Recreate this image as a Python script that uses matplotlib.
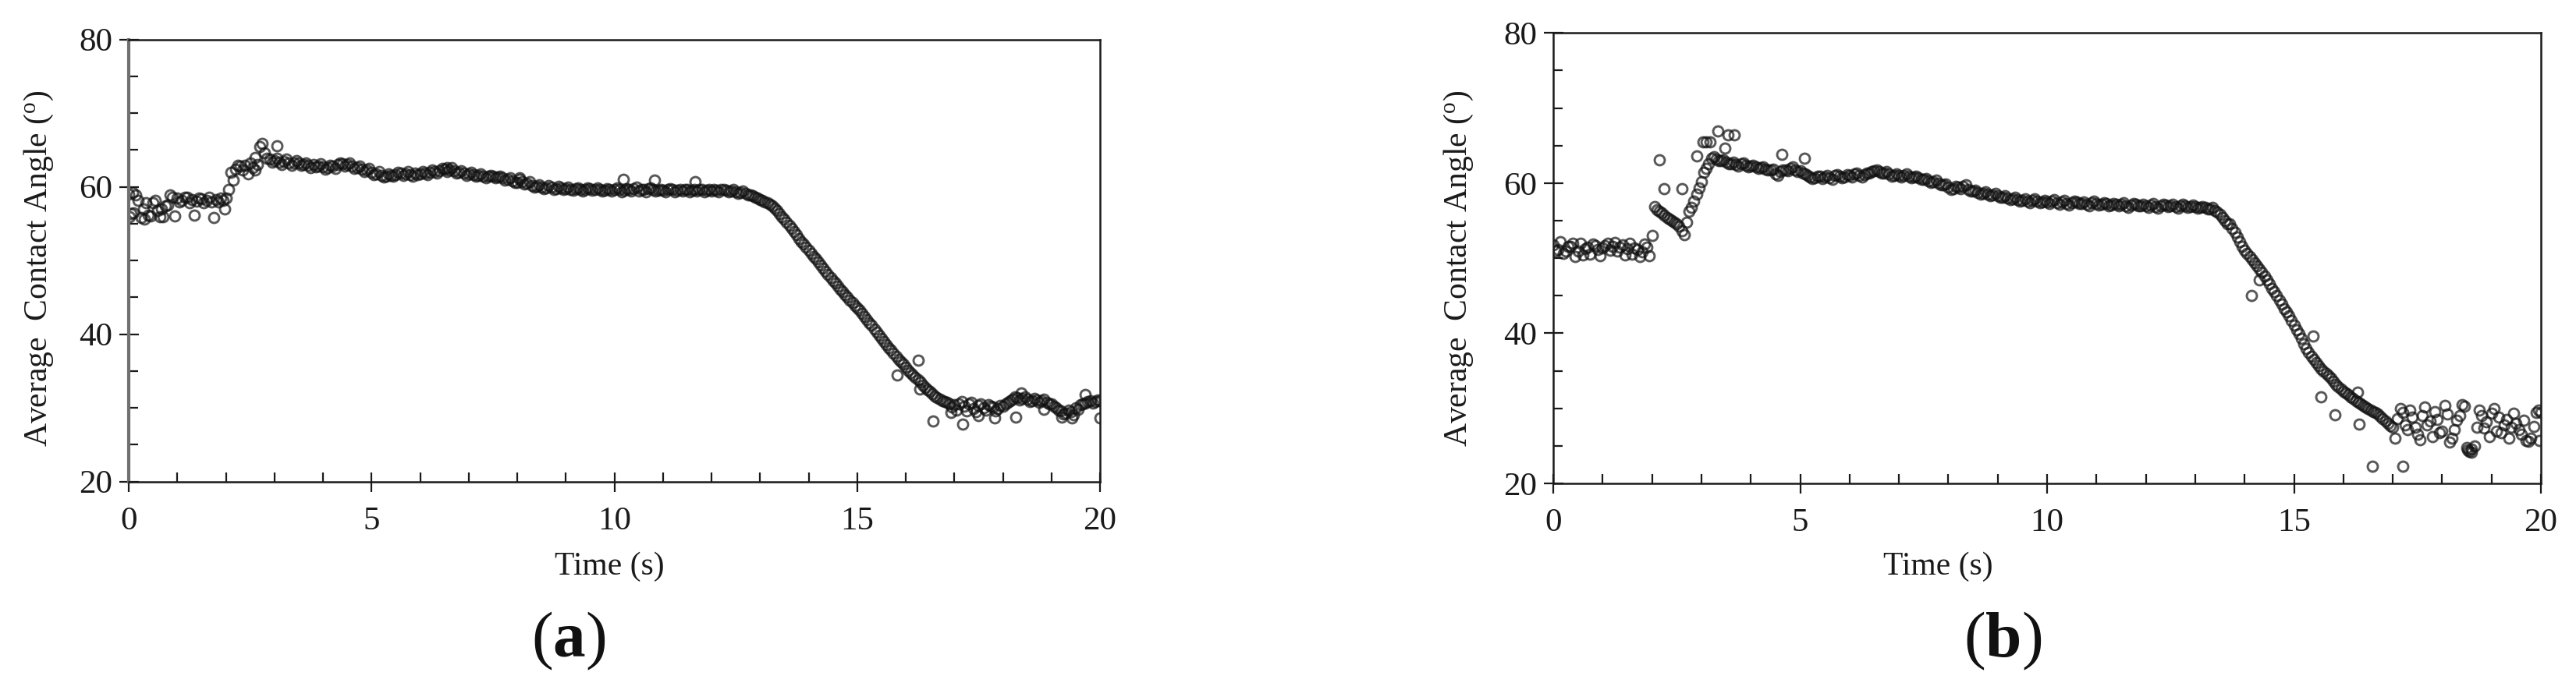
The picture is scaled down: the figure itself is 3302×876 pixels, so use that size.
import numpy as np
import matplotlib
matplotlib.use("Agg")
import matplotlib.pyplot as plt
from matplotlib.ticker import MultipleLocator

plt.rcParams['font.family'] = ['Liberation Serif', 'DejaVu Serif']
plt.rcParams['mathtext.fontset'] = 'custom'
plt.rcParams['mathtext.rm'] = 'Liberation Serif'
plt.rcParams['mathtext.bf'] = 'Liberation Serif:bold'

# ---------------- data ----------------
# sample times (s): frames every 0.1 s plus the in-between frames
time_main = np.round(np.arange(0, 20.001, 0.1), 2)
time_half = np.round(np.arange(0.05, 20.0, 0.1), 2)

angle_a = [
    59.0, 56.5, 58.2, 57.0, 56.2, 57.8, 56.8, 56.0, 57.5, 58.6,
    58.5, 58.2, 58.6, 58.3, 58.1, 58.4, 58.2, 58.0, 58.3, 58.5,
    58.5, 62.0, 62.4, 62.8, 62.9, 63.3, 64.0, 65.5, 64.6, 63.8,
    63.6, 63.4, 63.5, 63.3, 63.2, 63.3, 63.0, 62.9, 63.0, 62.8,
    62.7, 62.6, 62.8, 63.0, 63.1, 63.0, 62.8, 62.6, 62.4, 62.3,
    62.0, 61.8, 61.6, 61.5, 61.6, 61.7, 61.9, 61.8, 61.7, 61.9,
    61.8, 61.9, 62.0, 62.1, 62.2, 62.4, 62.3, 62.2, 62.0, 61.9,
    61.8, 61.7, 61.6, 61.5, 61.4, 61.5, 61.3, 61.2, 61.0, 60.8,
    60.6, 60.7, 60.5, 60.2, 60.1, 60.0, 59.9, 60.0, 59.8, 59.9,
    59.8, 59.7, 59.8, 59.6, 59.7, 59.8, 59.6, 59.7, 59.5, 59.6,
    59.7, 59.6, 59.5, 59.6, 59.8, 59.4, 59.6, 59.8, 59.7, 59.5,
    59.5, 59.6, 59.7, 59.5, 59.4, 59.6, 59.5, 59.4, 59.6, 59.5,
    59.4, 59.5, 59.6, 59.5, 59.4, 59.3, 59.2, 59.1, 58.9, 58.6,
    58.3, 58.0, 57.6, 57.1, 56.4, 55.6, 54.8, 53.9, 53.0, 52.2,
    51.4, 50.6, 49.8, 49.0, 48.1, 47.3, 46.5, 45.8, 45.0, 44.3,
    43.6, 42.8, 42.0, 41.2, 40.3, 39.4, 38.6, 37.8, 37.0, 36.3,
    35.5, 34.8, 34.2, 33.5, 32.8, 32.2, 31.6, 31.2, 30.9, 30.6,
    30.4, 30.6, 30.2, 30.5, 29.9, 30.3, 30.0, 30.4, 30.1, 29.9,
    30.2, 30.8, 31.2, 31.4, 31.3, 31.2, 31.0, 31.1, 31.0, 30.8,
    30.5, 30.0, 29.6, 29.3, 29.5, 30.0, 30.4, 30.7, 31.0, 30.9,
    31.0,
]
angle_a_half = [
    56.4, 58.9, 55.8, 57.9, 56.1, 58.2, 55.9, 57.4, 58.9, 56.1,
    58.0, 58.6, 57.9, 56.2, 58.5, 57.9, 58.6, 55.8, 58.0, 58.2,
    59.6, 60.9, 62.9, 62.3, 61.8, 62.6, 63.0, 65.9, 63.9, 63.4,
    63.9, 63.0, 63.8, 62.9, 63.6, 62.9, 63.3, 62.6, 62.7, 63.1,
    62.4, 62.9, 62.5, 63.3, 62.8, 63.3, 62.5, 62.8, 62.1, 62.5,
    61.7, 62.1, 61.3, 61.8, 61.4, 62.0, 61.6, 62.1, 61.5, 61.7,
    62.1, 61.7, 62.3, 61.9, 62.5, 62.1, 62.6, 61.9, 62.2, 61.6,
    62.0, 61.4, 61.8, 61.2, 61.6, 61.2, 61.5, 60.9, 61.2, 60.6,
    61.0, 60.4, 60.7, 60.0, 60.3, 59.8, 60.2, 59.7, 60.1, 59.6,
    60.0, 59.5, 59.9, 59.4, 59.9, 59.5, 59.9, 59.4, 59.8, 59.4,
    59.9, 59.3, 59.8, 59.4, 60.0, 59.6, 59.3, 59.9, 59.4, 59.7,
    59.3, 59.8, 59.3, 59.7, 59.6, 59.3, 59.7, 59.6, 59.3, 59.7,
    59.6, 59.3, 59.7, 59.3, 59.6, 59.1, 59.4, 58.9, 58.8, 58.5,
    58.2, 57.8, 57.4, 56.8, 56.0, 55.2, 54.4, 53.5, 52.6, 51.8,
    51.0, 50.2, 49.4, 48.5, 47.7, 46.9, 46.1, 45.4, 44.6, 43.9,
    43.2, 42.4, 41.6, 40.7, 39.9, 39.0, 38.2, 37.4, 36.6, 35.9,
    35.1, 34.5, 33.8, 33.1, 32.5, 31.9, 31.4, 31.0, 30.8, 30.1,
    29.7, 30.9, 29.6, 30.8, 29.5, 30.6, 29.7, 30.2, 29.6, 30.3,
    30.6, 31.0, 31.5, 31.1, 31.5, 30.9, 31.3, 30.8, 31.2, 30.6,
    30.2, 29.7, 29.2, 29.7, 29.1, 29.8, 30.6, 30.9, 30.7, 31.1,
]
outlier_time_a = [0.02, 0.08, 0.32, 0.68, 1.98, 2.60, 3.05, 6.55, 8.05,
                  10.19, 10.83, 11.66, 15.82, 16.26, 16.29, 16.56, 16.93,
                  17.18, 17.49, 17.83, 18.26, 18.38, 18.84, 19.21, 19.42,
                  19.70, 20.00]
outlier_angle_a = [56.0, 59.2, 55.6, 57.0, 57.0, 62.3, 65.6, 62.6, 61.2,
                   61.0, 60.9, 60.7, 34.5, 36.5, 32.6, 28.2, 29.4,
                   27.8, 29.0, 28.6, 28.8, 32.0, 29.8, 28.8, 28.6,
                   31.8, 28.6]

angle_b = [
    51.8, 51.2, 50.6, 51.6, 52.0, 51.0, 50.4, 51.5, 51.9, 51.2,
    51.4, 52.0, 51.6, 51.0, 51.8, 51.3, 50.5, 51.2, 50.8, 51.5,
    53.0, 56.5, 56.0, 55.4, 55.0, 54.6, 53.6, 54.8, 56.8, 58.5,
    60.2, 62.0, 63.3, 63.2, 63.0, 62.8, 62.6, 62.5, 62.6, 62.4,
    62.3, 62.2, 62.1, 61.9, 61.7, 61.2, 61.5, 61.8, 62.0, 61.8,
    61.6, 61.2, 60.8, 60.7, 60.9, 60.8, 60.7, 61.0, 60.9, 60.8,
    61.0, 61.2, 61.0, 61.1, 61.3, 61.6, 61.5, 61.3, 61.2, 61.0,
    61.0, 61.0, 60.9, 60.8, 60.7, 60.5, 60.3, 60.2, 60.0, 59.8,
    59.5, 59.3, 59.5, 59.6, 59.2, 58.9, 58.7, 58.6, 58.5, 58.4,
    58.3, 58.1, 58.0, 57.9, 57.8, 57.7, 57.6, 57.7, 57.6, 57.5,
    57.5, 57.6, 57.4, 57.5, 57.3, 57.4, 57.5, 57.3, 57.2, 57.4,
    57.3, 57.2, 57.3, 57.1, 57.2, 57.2, 57.0, 57.1, 57.2, 57.0,
    57.0, 57.1, 56.9, 57.0, 57.1, 57.0, 56.9, 57.0, 57.0, 56.9,
    56.9, 56.8, 56.8, 56.6, 56.3, 55.8, 55.0, 54.6, 53.4, 52.2,
    51.1, 50.2, 49.4, 48.6, 47.6, 46.6, 45.5, 44.4, 43.3, 42.3,
    41.1, 39.9, 38.6, 37.4, 36.5, 35.7, 35.0, 34.3, 33.6, 32.9,
    32.3, 31.8, 31.3, 30.8, 30.4, 30.0, 29.6, 29.2, 28.6, 28.0,
    27.5, 28.6, 29.5, 27.2, 28.8, 26.5, 29.0, 27.8, 26.2, 28.5,
    27.0, 29.2, 26.0, 28.4, 30.5, 24.8, 24.6, 27.5, 29.0, 28.2,
    29.3, 27.0, 26.8, 28.5, 27.5, 28.0, 26.5, 25.7, 26.0, 29.5,
    29.5,
]
angle_b_half = [
    51.0, 52.2, 50.9, 51.6, 50.2, 52.0, 51.3, 50.5, 51.7, 50.3,
    51.7, 51.1, 52.1, 51.5, 50.4, 52.0, 51.4, 50.2, 51.9, 50.3,
    56.9, 56.2, 55.7, 55.2, 54.8, 54.3, 53.1, 56.2, 57.6, 59.4,
    61.4, 62.6, 63.5, 63.0, 63.1, 62.6, 62.8, 62.3, 62.7, 62.2,
    62.4, 62.0, 62.2, 61.7, 61.9, 61.0, 61.7, 61.6, 62.2, 61.5,
    61.3, 61.0, 60.6, 60.9, 60.6, 61.0, 60.5, 61.1, 60.7, 61.1,
    60.8, 61.3, 60.8, 61.3, 61.5, 61.8, 61.3, 61.5, 60.9, 61.2,
    60.8, 61.2, 60.7, 60.9, 60.5, 60.6, 60.1, 60.4, 59.8, 59.9,
    59.2, 59.6, 59.3, 59.8, 58.9, 59.1, 58.5, 58.8, 58.3, 58.6,
    58.1, 58.3, 57.8, 58.1, 57.6, 57.9, 57.4, 57.9, 57.4, 57.7,
    57.3, 57.8, 57.2, 57.7, 57.1, 57.6, 57.3, 57.5, 57.0, 57.6,
    57.1, 57.4, 57.0, 57.3, 57.0, 57.4, 56.8, 57.3, 57.0, 57.2,
    56.8, 57.3, 56.7, 57.2, 56.9, 57.2, 56.7, 57.2, 56.8, 57.1,
    56.7, 56.9, 56.6, 56.8, 56.1, 55.4, 54.6, 54.0, 52.8, 51.6,
    50.6, 49.8, 49.0, 48.1, 47.1, 46.0, 45.0, 43.9, 42.8, 41.7,
    40.5, 39.3, 38.0, 36.9, 36.1, 35.3, 34.6, 34.0, 33.2, 32.6,
    32.0, 31.5, 31.0, 30.6, 30.2, 29.8, 29.4, 28.9, 28.3, 27.7,
    26.0, 30.0, 27.8, 29.8, 27.5, 25.8, 30.2, 28.3, 29.6, 26.8,
    30.4, 25.5, 27.2, 29.0, 30.3, 24.3, 25.0, 29.8, 27.4, 26.2,
    30.0, 28.8, 27.8, 26.0, 29.3, 27.2, 28.4, 25.6, 27.6, 29.8,
]
outlier_time_b = [2.15, 2.25, 2.60, 2.91, 3.03, 3.09, 3.18, 3.33, 3.48,
                  3.54, 3.66, 4.63, 5.09, 14.14, 14.30, 15.39, 15.55,
                  15.83, 16.28, 16.32, 16.58, 17.20, 18.52, 18.60, 19.97]
outlier_angle_b = [63.1, 59.3, 59.3, 63.6, 65.5, 65.5, 65.5, 66.9, 64.7,
                   66.4, 66.4, 63.8, 63.3, 45.0, 47.1, 39.6, 31.5,
                   29.1, 32.1, 27.9, 22.3, 22.3, 24.5, 24.2, 25.7]

x_ticks = [0, 5, 10, 15, 20]
y_ticks = [20, 40, 60, 80]
x_label = "Time (s)"
y_label = r"Average  Contact Angle ($\mathrm{^o}$)"
panel_labels = [r"($\mathbf{a}$)", r"($\mathbf{b}$)"]

# ---------------- figure ----------------
W, H = 3302, 876
fig = plt.figure(figsize=(W / 100, H / 100), dpi=100)

def px_axes(l, t, r, b):
    return fig.add_axes([l / W, 1 - b / H, (r - l) / W, (b - t) / H])

ax_a = px_axes(165, 50.7, 1410, 617.7)
ax_b = px_axes(1991, 42.3, 3257, 620)

mk = dict(linestyle='none', marker='o', markerfacecolor='none',
          markeredgecolor='#111111', markersize=9.3, markeredgewidth=2.1,
          alpha=0.7)

ax_a.plot(time_main, angle_a, **mk)
ax_a.plot(time_half, angle_a_half, **mk)
ax_a.plot(outlier_time_a, outlier_angle_a, **mk)
ax_b.plot(time_main, angle_b, **mk)
ax_b.plot(time_half, angle_b_half, **mk)
ax_b.plot(outlier_time_b, outlier_angle_b, **mk)

for ax, ylc in ((ax_a, (-0.092, 0.483)), (ax_b, (-0.0956, 0.4775))):
    ax.set_xlim(0, 20)
    ax.set_ylim(20, 80)
    ax.set_xticks(x_ticks)
    ax.set_yticks(y_ticks)
    ax.xaxis.set_minor_locator(MultipleLocator(1))
    ax.yaxis.set_minor_locator(MultipleLocator(5))
    ax.tick_params(which='major', direction='inout', length=18, width=1.6,
                   labelsize=31, colors='#1a1a1a', pad=6)
    ax.tick_params(which='minor', direction='in', length=8.5, width=1.6,
                   colors='#1a1a1a')
    ax.tick_params(axis='x', which='major', pad=14)
    for s in ax.spines.values():
        s.set_linewidth(1.8)
        s.set_color('#1a1a1a')
    ax.set_xlabel(x_label, fontsize=30, color='#1a1a1a')
    ax.xaxis.label.set_va('baseline')
    ax.set_ylabel(y_label, fontsize=30, color='#1a1a1a')
    ax.yaxis.set_label_coords(*ylc)
    ax.yaxis.label.set_va('center')

ax_a.xaxis.set_label_coords(0.495, (617.7 - 737) / 567)
ax_b.xaxis.set_label_coords(0.39, (620 - 737) / 577.7)

ax_a.spines['left'].set_color('#707070')
ax_a.spines['left'].set_linewidth(3.0)

fig.text(729 / W, 1 - 842 / H, panel_labels[0], fontsize=60, ha='center',
         va='baseline', color='#111111')
fig.text(2567 / W, 1 - 842 / H, panel_labels[1], fontsize=60, ha='center',
         va='baseline', color='#111111')

fig.savefig("out.png", dpi=100, facecolor='white')
